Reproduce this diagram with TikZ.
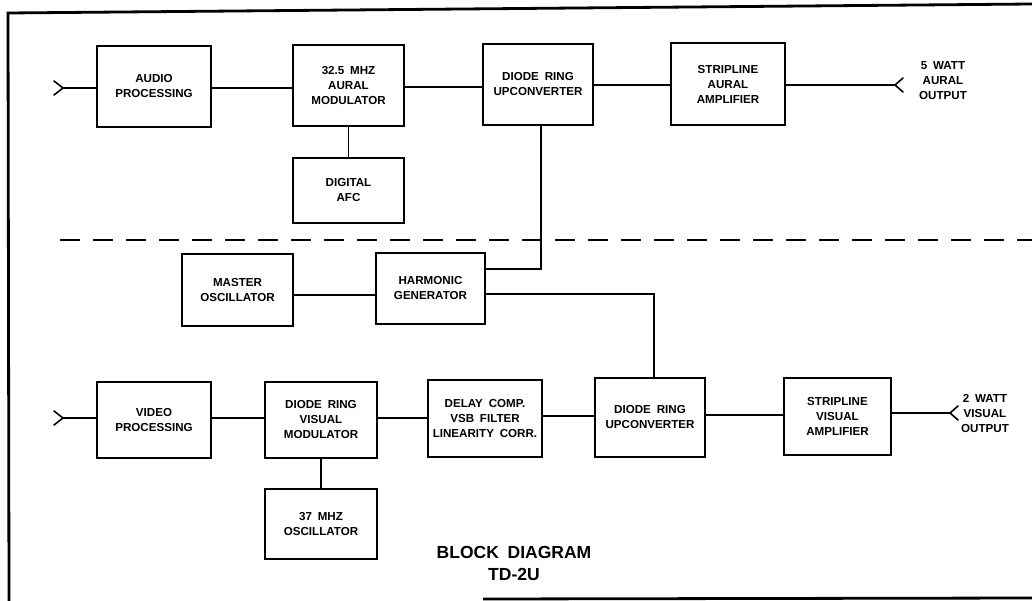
\documentclass[tikz,border=0pt]{standalone}
\usepackage{fontspec}
\setmainfont{Liberation Sans}
\newfontfamily\boxfont[WordSpace=1.8]{Liberation Sans}
\begin{document}
\begin{tikzpicture}[x=1pt,y=-1pt,
  box/.style={draw, line width=1.8pt, align=center, inner sep=0pt,
    font=\boxfont\bfseries\fontsize{11.6}{15}\selectfont},
  wire/.style={line width=1.6pt},
  frame/.style={line width=2.8pt},
  sep/.style={line width=2.5pt, dash pattern=on 20pt off 13pt},
  lbl/.style={align=center, inner sep=0pt, font=\boxfont\bfseries\fontsize{11.6}{15}\selectfont},
  ttl/.style={align=center, inner sep=0pt, font=\boxfont\bfseries\fontsize{17.5}{22}\selectfont}]
\useasboundingbox (0,0) rectangle (1032,601);
\fill[white] (0,0) rectangle (1032,601);

% frame
\coordinate (ftl) at (8,13);
\coordinate (ftr) at (1032,4);
\coordinate (fbl) at (9,601);
\coordinate (fbs) at (483,599);
\coordinate (fbr) at (1032,598);
\draw[frame] (ftr) -- (ftl) -- (fbl);
\draw[frame] (fbs) -- (fbr);

% separator
\coordinate (sl) at (60,240);
\coordinate (sr) at (1032,240);
\draw[sep] (sl) -- (sr);

% aural chain
\node[box, minimum width=114pt, minimum height=81pt] (audio) at (154,86.5) {AUDIO\\PROCESSING};
\node[box, minimum width=111pt, minimum height=81pt] (amod) at (348.5,85.5) {32.5 MHZ\\AURAL\\MODULATOR};
\node[box, minimum width=111pt, minimum height=65pt] (afc) at (348.5,190.5) {DIGITAL\\AFC};
\node[box, minimum width=110pt, minimum height=81pt] (upc1) at (538,84.5) {DIODE RING\\UPCONVERTER};
\node[box, minimum width=114pt, minimum height=82pt] (aamp) at (728,84) {STRIPLINE\\AURAL\\AMPLIFIER};
\node[lbl] (aout) at (943,81) {5 WATT\\AURAL\\OUTPUT};

% oscillator chain
\node[box, minimum width=111pt, minimum height=72pt] (mosc) at (237.5,290) {MASTER\\OSCILLATOR};
\node[box, minimum width=109pt, minimum height=71pt] (harm) at (430.5,288.5) {HARMONIC\\GENERATOR};

% visual chain
\node[box, minimum width=114pt, minimum height=76pt] (video) at (154,420) {VIDEO\\PROCESSING};
\node[box, minimum width=112pt, minimum height=76pt] (vmod) at (321,420) {DIODE RING\\VISUAL\\MODULATOR};
\node[box, minimum width=112pt, minimum height=70pt] (osc37) at (321,524) {37 MHZ\\OSCILLATOR};
\node[box, minimum width=114pt, minimum height=77pt] (delay) at (485,418.5) {DELAY COMP.\\VSB FILTER\\LINEARITY CORR.};
\node[box, minimum width=110pt, minimum height=79pt] (upc2) at (650,417.5) {DIODE RING\\UPCONVERTER};
\node[box, minimum width=107pt, minimum height=77pt] (vamp) at (837.5,416.5) {STRIPLINE\\VISUAL\\AMPLIFIER};
\node[lbl] (vout) at (985,414) {2 WATT\\VISUAL\\OUTPUT};

% title
\node[ttl] (title) at (514,563) {BLOCK DIAGRAM\\TD-2U};

% inputs / outputs
\coordinate (in1) at (63,88);
\coordinate (in2) at (63,418);
\coordinate (out1) at (895,85);
\coordinate (out2) at (950,413);
\draw[wire] (in1) -- (audio.west |- in1);
\draw[wire, line cap=round] (in1) ++(-9,-7) -- (in1) -- ++(-9,7);
\draw[wire] (in2) -- (video.west |- in2);
\draw[wire, line cap=round] (in2) ++(-9,-7) -- (in2) -- ++(-9,7);
\draw[wire] (aamp.east |- out1) -- (out1);
\draw[wire, line cap=round] (out1) ++(8,-7) -- (out1) -- ++(8,7);
\draw[wire] (vamp.east |- out2) -- (out2);
\draw[wire, line cap=round] (out2) ++(8,-7) -- (out2) -- ++(8,7);

% connectors
\draw[wire] (audio.east |- 0,88) -- (amod.west |- 0,88);
\draw[wire] (amod.east |- 0,87) -- (upc1.west |- 0,87);
\draw[wire] (upc1.east |- 0,85) -- (aamp.west |- 0,85);
\draw[wire] (amod.south) -- (afc.north);
\draw[wire] ([xshift=3pt]upc1.south) |- ([yshift=19.5pt]harm.east);
\draw[wire] (mosc.east |- 0,295) -- (harm.west |- 0,295);
\draw[wire] ([yshift=-5.5pt]harm.east) -| ([xshift=4pt]upc2.north);

\draw[wire] (video.east |- 0,418) -- (vmod.west |- 0,418);
\draw[wire] (vmod.east |- 0,418) -- (delay.west |- 0,418);
\draw[wire] (vmod.south) -- (osc37.north);
\draw[wire] (delay.east |- 0,416) -- (upc2.west |- 0,416);
\draw[wire] (upc2.east |- 0,415) -- (vamp.west |- 0,415);
\end{tikzpicture}
\end{document}
